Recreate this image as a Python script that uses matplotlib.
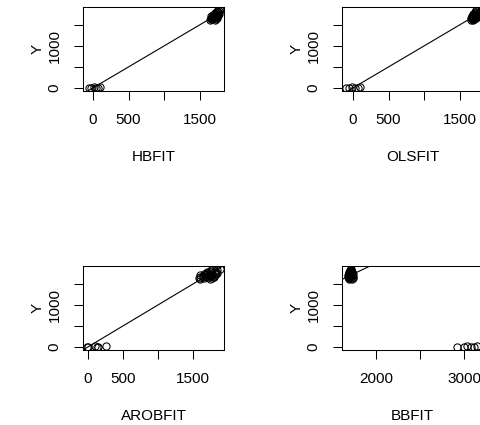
import matplotlib
matplotlib.use('Agg')
import matplotlib.pyplot as plt

plt.rcParams['font.family'] = ['Liberation Sans', 'DejaVu Sans']
plt.rcParams['font.size'] = 11

# response values: a few near zero, the rest in a tight cluster
Y = [0, 6, 12, 3, 9, 15,
     1612, 1625, 1633, 1641, 1648, 1655, 1661, 1667, 1672, 1678,
     1684, 1689, 1694, 1699, 1704, 1709, 1715, 1720, 1726, 1731,
     1737, 1743, 1749, 1756, 1763, 1770, 1778, 1786, 1795, 1806,
     1818, 1831, 1843, 1852]

HBFIT = [-57, -30, 10, 40, 70, 100,
         1654, 1713, 1681, 1729, 1656, 1709, 1676, 1743, 1705, 1662,
         1729, 1696, 1742, 1679, 1721, 1668, 1735, 1716, 1694, 1760,
         1707, 1755, 1692, 1739, 1712, 1769, 1732, 1765, 1713, 1762,
         1741, 1775, 1745, 1790]

OLSFIT = [-100, -60, -20, 30, 70, 100,
          1689, 1668, 1706, 1679, 1706, 1664, 1721, 1693, 1735, 1682,
          1714, 1671, 1737, 1694, 1751, 1688, 1715, 1736, 1674, 1730,
          1692, 1760, 1717, 1754, 1692, 1739, 1782, 1720, 1758, 1712,
          1791, 1750, 1790, 1738]

AROBFIT = [-20, 0, 100, 130, 145, 257,
           1597, 1742, 1660, 1777, 1593, 1723, 1639, 1804, 1707, 1599,
           1764, 1680, 1796, 1636, 1739, 1605, 1771, 1724, 1666, 1831,
           1696, 1813, 1653, 1771, 1700, 1842, 1747, 1826, 1694, 1814,
           1758, 1841, 1760, 1880]

BBFIT = [2925, 3000, 3030, 3080, 3120, 3150,
         1690, 1723, 1702, 1729, 1684, 1714, 1693, 1732, 1708, 1681,
         1720, 1699, 1726, 1687, 1711, 1678, 1717, 1705, 1690, 1729,
         1696, 1723, 1684, 1711, 1693, 1726, 1702, 1720, 1687, 1714,
         1699, 1717, 1696, 1711]

panels = [
    ('HBFIT', HBFIT, (-141, 1845), [0, 500, 1000, 1500], ['0', '500', '', '1500']),
    ('OLSFIT', OLSFIT, (-155, 1831), [0, 500, 1000, 1500], ['0', '500', '', '1500']),
    ('AROBFIT', AROBFIT, (-71, 1943), [0, 500, 1000, 1500], ['0', '500', '', '1500']),
    ('BBFIT', BBFIT, (1609, 3217), [2000, 2500, 3000], ['2000', '', '3000']),
]

W, H = 480, 425
boxes = [(83, 7), (342, 7), (83, 266), (342, 266)]  # left, top in pixels
bw, bh = 141, 84

fig = plt.figure(figsize=(W / 100, H / 100), dpi=100)

for (name, fit, xlim, xt, xtl), (px, py) in zip(panels, boxes):
    ax = fig.add_axes([px / W, 1 - (py + bh) / H, bw / W, bh / H])
    ax.plot(fit, Y, 'o', mfc='none', mec='black', ms=5.2, mew=0.75)
    ax.axline((0, 0), slope=1, color='black', lw=0.8)
    ax.set_xlim(xlim)
    ax.set_ylim(-74, 1929)
    ax.set_xticks(xt)
    ax.set_xticklabels(xtl)
    ax.set_yticks([0, 500, 1000, 1500])
    ax.set_yticklabels(['0', '', '1000', ''], rotation=90, va='center')
    ax.tick_params(direction='out', length=6.5, width=0.75, pad=9, colors='black')
    for s in ax.spines.values():
        s.set_linewidth(0.75)
    ax.set_xlabel(name)
    ax.xaxis.set_label_coords(0.5, -66 / bh)
    ax.xaxis.label.set_va('center')
    ax.set_ylabel('Y')
    ax.yaxis.set_label_coords(-45 / bw, 0.5)
    ax.yaxis.label.set_va('center')

fig.savefig('out.png', dpi=100)
